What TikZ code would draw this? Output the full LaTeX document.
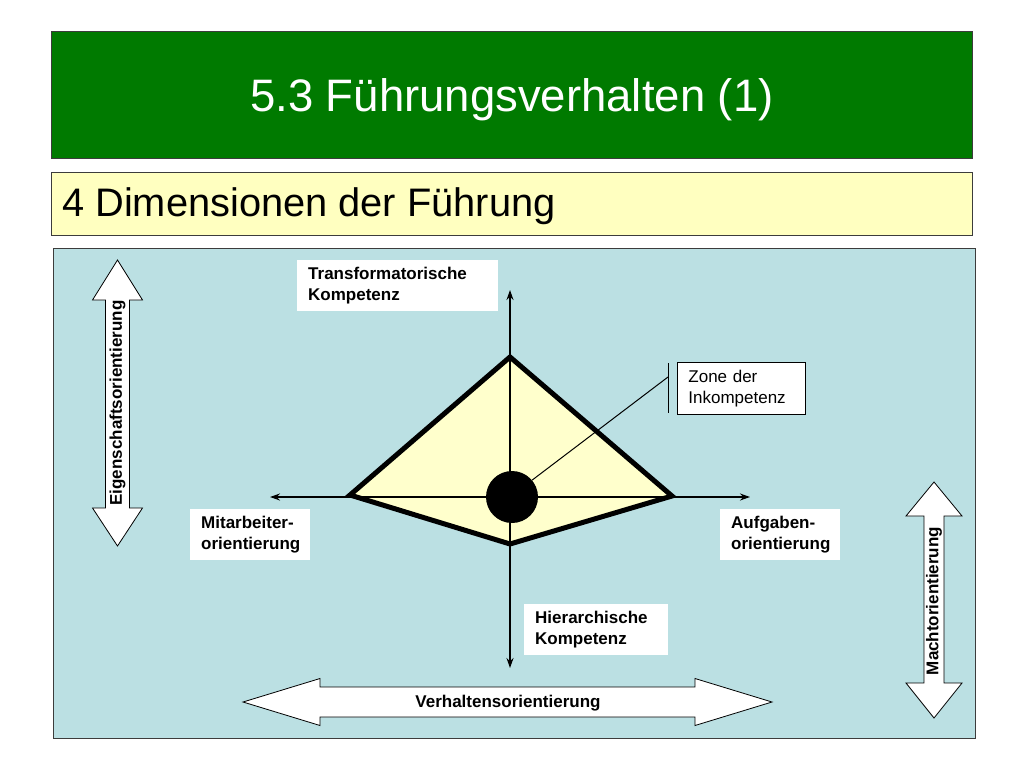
\documentclass[tikz,border=0pt]{standalone}
\usepackage{fontspec}
\setmainfont{Liberation Sans}
\usetikzlibrary{arrows.meta,positioning,calc}

\definecolor{titlegreen}{RGB}{0,122,0}
\definecolor{subyellow}{RGB}{255,255,192}
\definecolor{kiteyellow}{RGB}{255,255,204}
\definecolor{panelblue}{RGB}{187,224,227}
\definecolor{framegray}{RGB}{60,60,60}

\begin{document}
\begin{tikzpicture}[x=1pt, y=-1pt, >={Stealth[length=10pt,width=7pt]},
  band/.style={draw=framegray, line width=0.8pt, anchor=north west,
    inner sep=0pt},
  lbl/.style={fill=white, anchor=north west, align=left,
    font=\fontsize{17}{21}\selectfont\bfseries,
    inner xsep=11pt, inner ysep=0pt, minimum height=51pt, text width=#1},
  dirlbl/.style={font=\fontsize{17}{20}\selectfont\bfseries, inner sep=0pt},
  bigarrow/.style={draw=black, fill=white, line width=0.8pt, line join=miter},
  axis/.style={line width=1.5pt, <->},
  kite/.style={draw=black, fill=kiteyellow, line width=5pt, line join=miter},
]
\useasboundingbox (0,0) rectangle (1024,768);
\fill[white] (0,0) rectangle (1024,768);

%% Title bars
\node[band, fill=titlegreen, minimum width=921pt, minimum height=127pt]
  (title) at (51,31) {};
\node[text=white, font=\fontsize{45.5}{54}\selectfont] at ($(title.center)+(0,5)$)
  {5.3 Führungsverhalten (1)};
\node[band, fill=subyellow, minimum width=921pt, minimum height=63pt]
  (sub) at (51,172) {};
\node[anchor=west, inner xsep=11pt, font=\fontsize{39.8}{46}\selectfont]
  at ($(sub.west)+(0,2)$) {4 Dimensionen der Führung};

%% Panel
\node[band, fill=panelblue, minimum width=922pt, minimum height=490pt]
  (panel) at (53,248) {};

%% Side arrows
\draw[bigarrow] (117.5,260) -- (142.5,300) -- (129.5,300) -- (129.5,508)
  -- (142.5,508) -- (117.5,546) -- (92.5,508) -- (105.5,508) -- (105.5,300)
  -- (92.5,300) -- cycle;
\node[dirlbl, rotate=90] (eig) at (117.5,403) {Eigenschaftsorientierung};

\draw[bigarrow] (934,482) -- (962,516) -- (944,516) -- (944,683)
  -- (962,683) -- (934,718) -- (906,683) -- (924,683) -- (924,516)
  -- (906,516) -- cycle;
\node[dirlbl, rotate=90] (macht) at (934,601) {Machtorientierung};

\draw[bigarrow] (243,702) -- (320,678.5) -- (320,687) -- (695,687)
  -- (695,678.5) -- (772,702) -- (695,725.5) -- (695,717) -- (320,717)
  -- (320,725.5) -- cycle;
\node[dirlbl] (verh) at (508,703) {Verhaltensorientierung};

%% Axes
\coordinate (O) at (510,497);
\coordinate (ytop) at (510,290);
\coordinate (ybot) at (510,668);
\coordinate (xleft) at (270,497);
\coordinate (xright) at (750,497);

%% Kite
\coordinate (ktop) at (510,357);
\coordinate (kright) at (672,496);
\coordinate (kbot) at (510,544);
\coordinate (kleft) at (350,495);
\draw[kite] (ktop) -- (kright) -- (kbot) -- (kleft) -- cycle;

\draw[axis] (ybot) -- (ytop);
\draw[axis] (xleft) -- (xright);

\node[circle, fill=black, minimum size=52pt, inner sep=0pt] (dot) at (512,497) {};

%% Zone der Inkompetenz
\node[draw=black, fill=white, line width=0.8pt, anchor=north west, align=left,
  font=\fontsize{17}{21}\selectfont, inner xsep=11pt, inner ysep=0pt,
  minimum height=52pt, text width=106pt] (zone) at (677,362)
  {Zone der\\Inkompetenz};
\coordinate (bartop) at (668,363);
\coordinate (barbot) at (668,413);
\coordinate (barmid) at (668,377);
\draw[line width=1pt] (bartop) -- (barbot);
\draw[line width=1pt] (dot.40) -- (barmid);

%% Dimension labels
\node[lbl=179pt] (trans) at (297,260) {Transformatorische\\Kompetenz};
\node[lbl=98pt] (mit) at (190,509) {Mitarbeiter-\\orientierung};
\node[lbl=98pt] (aufg) at (720,509) {Aufgaben-\\orientierung};
\node[lbl=122pt] (hier) at (524,604) {Hierarchische\\Kompetenz};

\end{tikzpicture}
\end{document}
